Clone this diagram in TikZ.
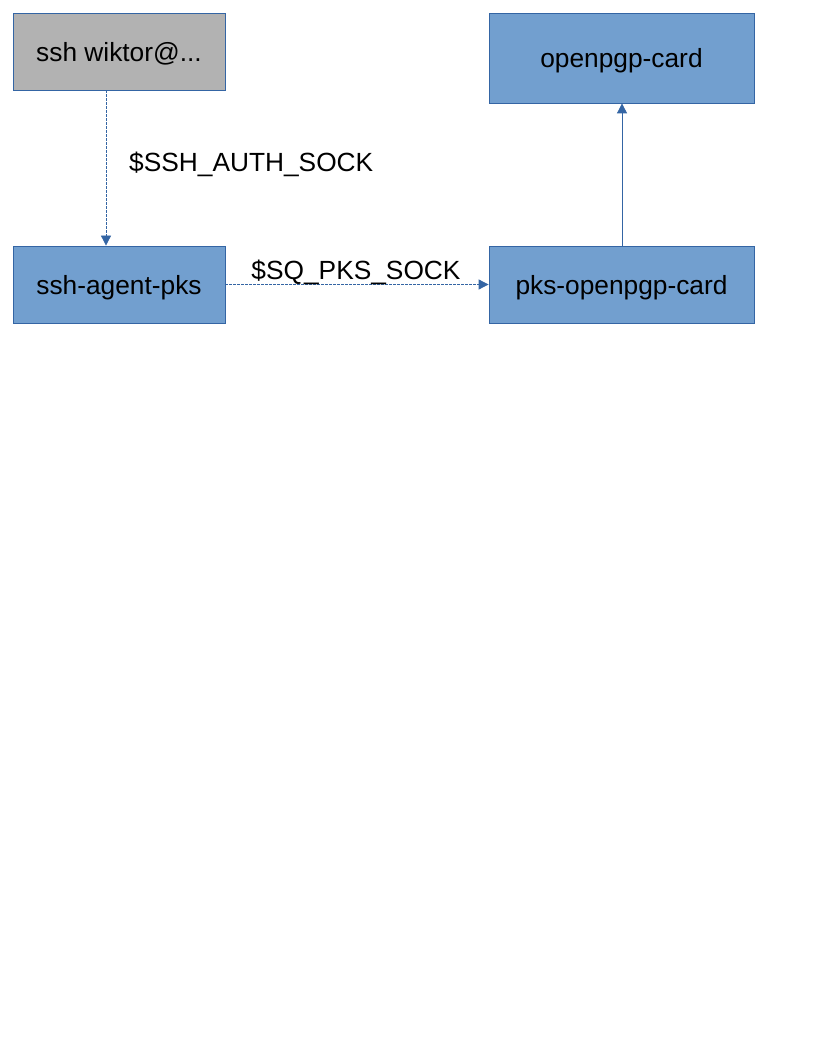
\documentclass[tikz,border=0pt]{standalone}
\usepackage{fontspec}
\setmainfont{Liberation Sans}
\usetikzlibrary{arrows.meta}
\definecolor{bord}{HTML}{3465A4}
\definecolor{bluefill}{HTML}{729FCF}
\definecolor{grayfill}{HTML}{B2B2B2}
\begin{document}
\begin{tikzpicture}[x=1pt,y=-1pt,
  box/.style={draw=bord, line width=0.8pt, fill=bluefill, inner sep=0pt, text height=20pt, text depth=0pt, font=\fontsize{26.3}{30}\selectfont},
  conn/.style={draw=bord, line width=0.8pt, -{Triangle[length=10pt,width=10pt]}},
  dconn/.style={conn, dash pattern=on 2.5pt off 1.5pt},
  lbl/.style={font=\fontsize{26.3}{30}\selectfont, inner sep=0pt}]
\useasboundingbox (0,0) rectangle (816,1056);
\node[box, fill=grayfill, minimum width=212pt, minimum height=77pt] (ssh) at (119,51.5) {ssh wiktor@...};
\node[box, minimum width=265pt, minimum height=90pt] (card) at (621.5,58) {openpgp-card};
\node[box, minimum width=212pt, minimum height=77pt] (agent) at (119,284.5) {ssh-agent-pks};
\node[box, minimum width=265pt, minimum height=77pt] (pks) at (621.5,284.5) {pks-openpgp-card};
\draw[dconn] (ssh.south -| 106,0) -- (agent.north -| 106,0);
\node[lbl, anchor=west] (l1) at (129,164) {\$SSH\_AUTH\_SOCK};
\draw[dconn] (agent.east) -- (pks.west);
\node[lbl] (l2) at (356,272) {\$SQ\_PKS\_SOCK};
\draw[conn] (pks.north -| 622,0) -- (card.south -| 622,0);
\end{tikzpicture}
\end{document}
